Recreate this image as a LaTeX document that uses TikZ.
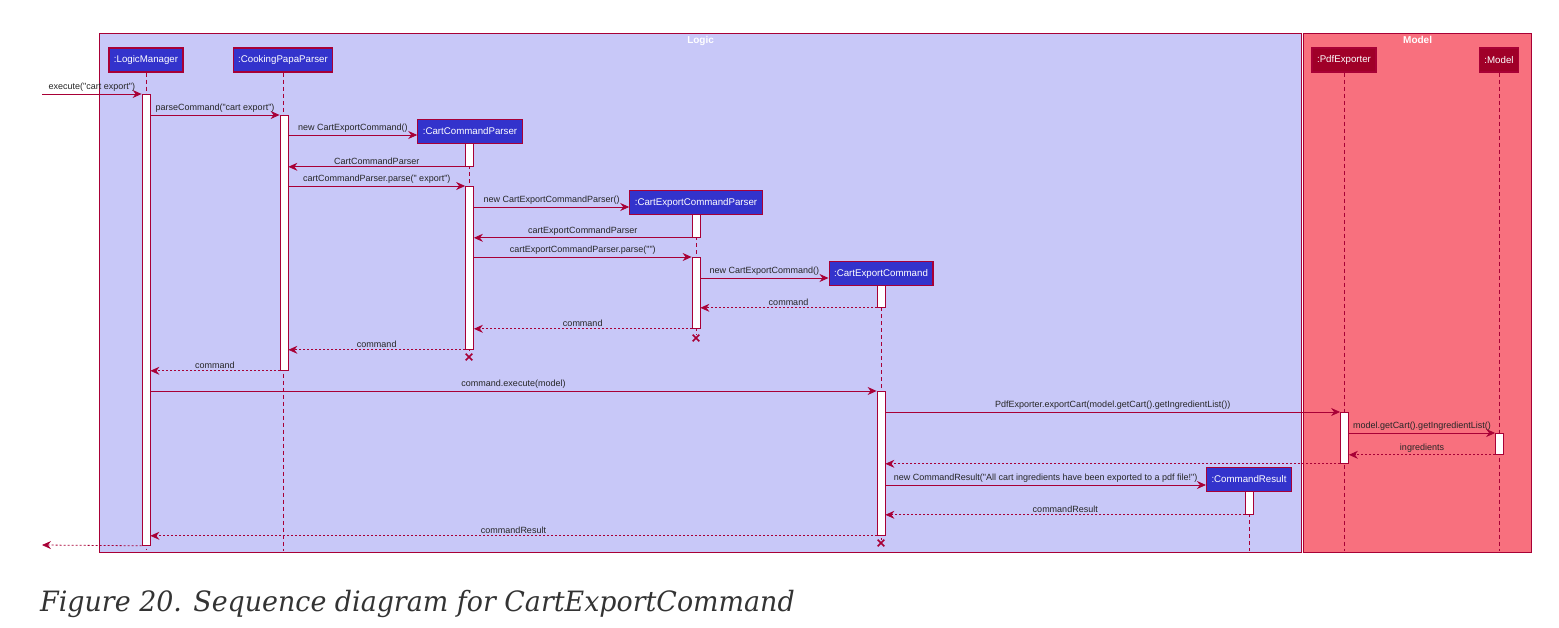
\documentclass[tikz,border=0pt]{standalone}
\usepackage{fontspec}
\newfontfamily\diagfont{Liberation Sans}
\newfontfamily\capfont{DejaVu Serif}
\usetikzlibrary{positioning,arrows.meta,shapes.misc}

\definecolor{crimson}{HTML}{A80036}
\definecolor{logicbg}{HTML}{C8C8F8}
\definecolor{modelbg}{HTML}{F8707E}
\definecolor{logicpart}{HTML}{3333CC}
\definecolor{modelpart}{HTML}{A00028}

\begin{document}
\begin{tikzpicture}[
  x=1pt, y=-1pt,
  font=\diagfont\fontsize{9}{10}\selectfont,
  frame/.style={draw=crimson, line width=1.2pt, anchor=north west, inner sep=0pt},
  ftitle/.style={anchor=north, inner sep=3.5pt, text=white, font=\diagfont\bfseries\fontsize{10}{11}\selectfont},
  part/.style={draw=crimson, line width=1.2pt, fill=logicpart, text=white, inner xsep=5pt,
               minimum height=24pt, font=\diagfont\fontsize{9.7}{11}\selectfont},
  mpart/.style={part, fill=modelpart},
  bar/.style={draw=crimson, line width=0.8pt, fill=white, anchor=north, minimum width=8pt, inner sep=0pt},
  life/.style={draw=crimson, line width=0.8pt, dash pattern=on 4pt off 3pt},
  kill/.style={cross out, draw=crimson, line width=1.6pt, minimum size=5pt, inner sep=0pt},
  call/.style={-{Stealth[length=9pt, width=8pt, inset=3pt]}, draw=crimson, line width=0.8pt},
  reply/.style={call, dash pattern=on 2pt off 2pt},
  lbl/.style={midway, above, inner sep=2pt, text=black!85},
]
\useasboundingbox (0,0) rectangle (1559,628);

% ---- frames -----------------------------------------------------
\node[frame, fill=logicbg, minimum width=1202pt, minimum height=519pt] (logic) at (99,33) {};
\node[frame, fill=modelbg, minimum width=228pt, minimum height=519pt] (model) at (1303,33) {};
\node[ftitle] at (logic.north) {Logic};
\node[ftitle] at (model.north) {Model};

% ---- participants -----------------------------------------------
\node[part]  (lm)   at (146,60)    {:LogicManager};
\node[part]  (cpp)  at (283,60)    {:CookingPapaParser};
\node[part]  (ccp)  at (470,131.5) {:CartCommandParser};
\node[part]  (cecp) at (696,202.5) {:CartExportCommandParser};
\node[part]  (cec)  at (881,273.5) {:CartExportCommand};
\node[part]  (cr)   at (1249,479.5) {:CommandResult};
\node[mpart] (pdf)  at (1344,60)   {:PdfExporter};
\node[mpart] (mod)  at (1499,60)   {:Model};

% ---- lifelines --------------------------------------------------
\coordinate (lmEnd)  at (146,550);
\coordinate (cppEnd) at (283,551);
\coordinate (pdfEnd) at (1344,551);
\coordinate (modEnd) at (1499,551);
\coordinate (crEnd)  at (1249,551);
\node[kill] (ccpX)  at (469,357) {};
\node[kill] (cecpX) at (696,338) {};
\node[kill] (cecX)  at (881,543) {};

\draw[life] (lm)   -- (lmEnd);
\draw[life] (cpp)  -- (cppEnd);
\draw[life] (ccp.south -| ccpX) -- (ccpX);
\draw[life] (cecp) -- (cecpX);
\draw[life] (cec)  -- (cecX);
\draw[life] (pdf)  -- (pdfEnd);
\draw[life] (mod)  -- (modEnd);
\draw[life] (cr)   -- (crEnd);

% ---- activation bars --------------------------------------------
\node[bar, minimum height=451pt] (lmA)   at (146,94)    {};
\node[bar, minimum height=255pt] (cppA)  at (284,115)   {};
\node[bar, minimum height=23pt]  (ccpA)  at (469.5,143) {};
\node[bar, minimum height=163pt] (ccpB)  at (469.5,186) {};
\node[bar, minimum height=23pt]  (cecpA) at (696,214)   {};
\node[bar, minimum height=71pt]  (cecpB) at (696,257)   {};
\node[bar, minimum height=22pt]  (cecA)  at (881,285)   {};
\node[bar, minimum height=144pt] (cecB)  at (881,391)   {};
\node[bar, minimum height=51pt]  (pdfA)  at (1344.5,412) {};
\node[bar, minimum height=21pt]  (modA)  at (1499.5,433) {};
\node[bar, minimum height=23pt]  (crA)   at (1249.5,491) {};

% ---- messages ---------------------------------------------------
\coordinate (gateIn)  at (42,94);
\coordinate (gateOut) at (42,545);

\draw[call]  (gateIn) -- (lmA.north west) node[lbl] {execute("cart export")};
\draw[call]  (lmA.east |- cppA.north) -- (cppA.north west) node[lbl] {parseCommand("cart export")};
\draw[call]  (cppA.east |- 0,135) -- (ccp.west |- 0,135) node[lbl] {new CartExportCommand()};
\draw[call]  (ccpA.south west) -- (cppA.east |- ccpA.south) node[lbl] {CartCommandParser};
\draw[call]  (cppA.east |- ccpB.north) -- (ccpB.north west) node[lbl] {cartCommandParser.parse(" export")};
\draw[call]  (ccpB.east |- 0,207) -- (cecp.west |- 0,207) node[lbl] {new CartExportCommandParser()};
\draw[call]  (cecpA.south west) -- (ccpB.east |- cecpA.south) node[lbl] {cartExportCommandParser};
\draw[call]  (ccpB.east |- cecpB.north) -- (cecpB.north west) node[lbl] {cartExportCommandParser.parse("")};
\draw[call]  (cecpB.east |- 0,278) -- (cec.west |- 0,278) node[lbl] {new CartExportCommand()};
\draw[reply] (cecA.south west) -- (cecpB.east |- cecA.south) node[lbl] {command};
\draw[reply] (cecpB.south west) -- (ccpB.east |- cecpB.south) node[lbl] {command};
\draw[reply] (ccpB.south west) -- (cppA.east |- ccpB.south) node[lbl] {command};
\draw[reply] (cppA.south west) -- (lmA.east |- cppA.south) node[lbl] {command};
\draw[call]  (lmA.east |- cecB.north) -- (cecB.north west) node[lbl] {command.execute(model)};
\draw[call]  (cecB.east |- pdfA.north) -- (pdfA.north west) node[lbl] {PdfExporter.exportCart(model.getCart().getIngredientList())};
\draw[call]  (pdfA.east |- modA.north) -- (modA.north west) node[lbl] {model.getCart().getIngredientList()};
\draw[reply] (modA.south west) -- (pdfA.east |- modA.south) node[lbl] {ingredients};
\draw[reply] (pdfA.south west) -- (cecB.east |- pdfA.south);
\draw[call]  (cecB.east |- 0,485) -- (cr.west |- 0,485) node[lbl] {new CommandResult("All cart ingredients have been exported to a pdf file!")};
\draw[reply] (crA.south west) -- (cecB.east |- crA.south) node[lbl] {commandResult};
\draw[reply] (cecB.south west) -- (lmA.east |- cecB.south) node[lbl] {commandResult};
\draw[reply] (lmA.south west) -- (gateOut);

% ---- caption ----------------------------------------------------
\node[anchor=base west, inner sep=0pt, text=black!80, font=\capfont\itshape\fontsize{28}{32}\selectfont]
  (cap) at (40,611) {\scalebox{0.96}[1]{Figure 20. Sequence diagram for CartExportCommand}};

\end{tikzpicture}
\end{document}
